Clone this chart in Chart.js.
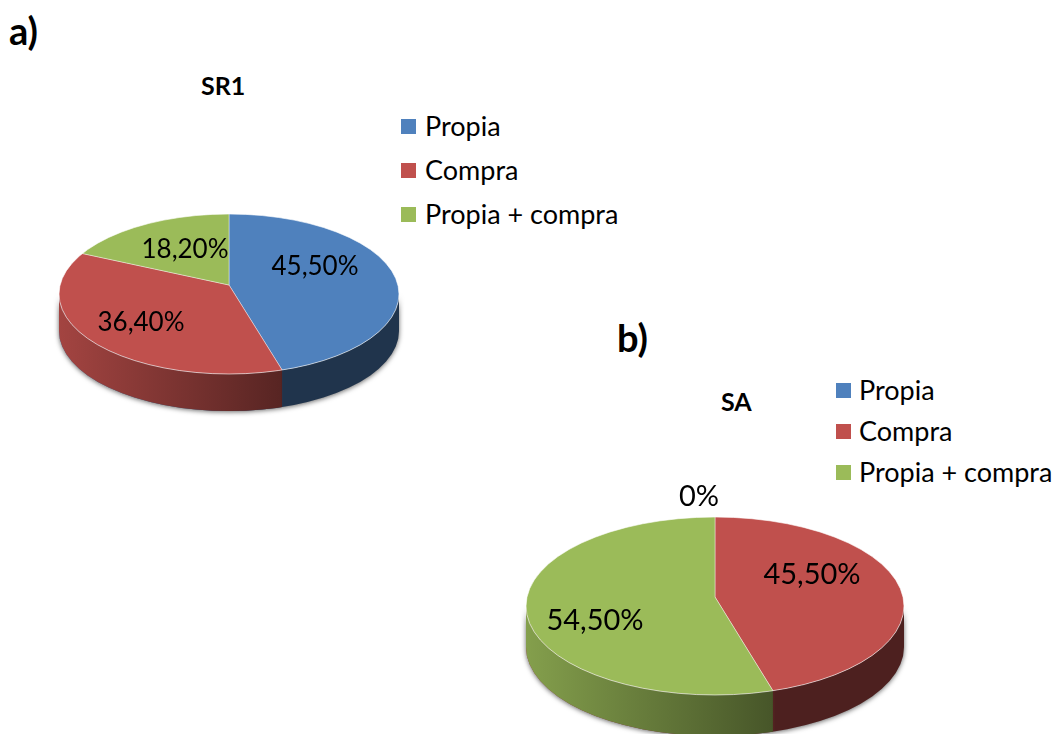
<!DOCTYPE html>
<html>
<head>
<meta charset="utf-8">
<title>SR1 / SA</title>
<script src="https://cdn.jsdelivr.net/npm/chart.js@4"></script>
<style>
	html, body { margin: 0; padding: 0; background: #fff; }
	body { position: relative; width: 1053px; height: 734px; overflow: hidden; font-family: Lato, sans-serif; color: #000; }
	canvas { position: absolute; }
	.tag, .title, .legend { position: absolute; }
	.tag { font-weight: 700; font-size: 38px; line-height: 40px; }
	.title { font-weight: 700; font-size: 25px; line-height: 28px; }
	.legend div { position: absolute; left: 0; white-space: nowrap; font-size: 27px; line-height: 30px; }
	.legend i { position: absolute; left: 0; top: 8px; width: 15px; height: 15px; }
	.legend span { position: absolute; }
</style>
</head>
<body>
<div class="tag" style="left:9px;top:10px">a)</div>
<div class="title" style="left:201px;top:71px">SR1</div>
<div class="legend" id="legendA" style="left:401px;top:111px"></div>
<canvas id="chartA" width="400" height="400" style="left:29px;top:85px"></canvas>

<div class="tag" style="left:617px;top:317px">b)</div>
<div class="title" style="left:721px;top:387px">SA</div>
<div class="legend" id="legendB" style="left:836px;top:375px"></div>
<canvas id="chartB" width="440" height="440" style="left:495px;top:377px"></canvas>

<script>
var categories = ["Propia", "Compra", "Propia + compra"];
var sliceColors = ["#4F81BD", "#C0504D", "#9BBB59"];
var sr1Values = [45.5, 36.4, 18.2];
var saValues = [0, 45.5, 54.5];

function shade(hex, f) {
	var n = parseInt(hex.slice(1), 16);
	return "rgb(" + Math.round((n >> 16) * f) + "," + Math.round(((n >> 8) & 255) * f) + "," + Math.round((n & 255) * f) + ")";
}

function percentText(v) {
	return v === 0 ? "0%" : v.toFixed(2).replace(".", ",") + "%";
}

// where a ray leaving the apex at this angle meets the top ellipse
function rimPoint(p, cx, cy, angle) {
	var dx = Math.cos(angle), dy = Math.sin(angle) * p.tilt;
	var ox = 0, oy = -p.apexDrop;
	var a = dx * dx / (p.rx * p.rx) + dy * dy / (p.ry * p.ry);
	var b = 2 * (ox * dx / (p.rx * p.rx) + oy * dy / (p.ry * p.ry));
	var c = oy * oy / (p.ry * p.ry) - 1;
	var t = (-b + Math.sqrt(b * b - 4 * a * c)) / (2 * a);
	return { x: cx + dx * t, y: cy + oy + dy * t };
}

function rimPath(ctx, cx, cy, p) {
	ctx.beginPath();
	ctx.ellipse(cx, cy, p.rx, p.ry, 0, 0, Math.PI);
	ctx.lineTo(cx - p.rx, cy + p.depth);
	ctx.ellipse(cx, cy + p.depth, p.rx, p.ry, 0, Math.PI, 0, true);
	ctx.closePath();
}

// side wall, squashed disc and value labels around the normal arc drawing
var pie3d = {
	id: "pie3d",
	beforeDatasetsDraw: function(chart, args, p) {
		var ctx = chart.ctx;
		var arcs = chart.getDatasetMeta(0).data;
		var ax = arcs[0].x, ay = arcs[0].y;
		var cx = ax, cy = ay + p.apexDrop;

		ctx.save();
		ctx.shadowColor = "rgba(0,0,0,0.6)";
		ctx.shadowBlur = 5;
		ctx.shadowOffsetY = 1;
		ctx.fillStyle = "#999";
		rimPath(ctx, cx, cy, p);
		ctx.fill();
		ctx.restore();

		arcs.forEach(function(arc, i) {
			if (arc.endAngle - arc.startAngle < 0.001) return;
			var minX = Infinity, maxX = -Infinity, any = false, a, q;
			var step = (arc.endAngle - arc.startAngle) / 200;
			for (a = arc.startAngle; a <= arc.endAngle + 1e-6; a += step) {
				q = rimPoint(p, cx, cy, a);
				if (q.y >= cy) any = true;
			}
			if (!any) return;
			for (a = arc.startAngle; a <= arc.endAngle + 1e-6; a += step) {
				q = rimPoint(p, cx, cy, a);
				var x = q.y >= cy ? q.x : (q.x > cx ? cx + p.rx : cx - p.rx);
				minX = Math.min(minX, x);
				maxX = Math.max(maxX, x);
			}
			var base = sliceColors[i];
			var g = ctx.createLinearGradient(cx - p.rx, 0, cx + p.rx, 0);
			g.addColorStop(0, shade(base, 0.85));
			g.addColorStop(0.65, shade(base, 0.46));
			g.addColorStop(0.66, shade(base, 0.4));
			g.addColorStop(1, shade(base, 0.4));
			ctx.save();
			rimPath(ctx, cx, cy, p);
			ctx.clip();
			ctx.fillStyle = g;
			ctx.fillRect(minX, cy - 2, maxX - minX, p.ry + p.depth + 6);
			if (minX > cx - p.rx + 1) {
				ctx.strokeStyle = "rgba(255,255,255,0.55)";
				ctx.lineWidth = 1;
				ctx.beginPath();
				ctx.moveTo(minX, cy);
				ctx.lineTo(minX, cy + p.ry + p.depth);
				ctx.stroke();
			}
			ctx.restore();
		});

		// the arcs are drawn in a flattened space, cut down to the tilted disc
		ctx.save();
		ctx.beginPath();
		ctx.ellipse(cx, cy, p.rx, p.ry, 0, 0, Math.PI * 2);
		ctx.clip();
		ctx.translate(ax, ay);
		ctx.scale(1, p.tilt);
		ctx.translate(-ax, -ay);
	},
	afterDatasetsDraw: function(chart, args, p) {
		var ctx = chart.ctx;
		var arcs = chart.getDatasetMeta(0).data;
		var ax = arcs[0].x, ay = arcs[0].y;
		ctx.restore();

		ctx.save();
		ctx.strokeStyle = "rgba(255,255,255,0.6)";
		ctx.lineWidth = 1;
		ctx.beginPath();
		ctx.ellipse(ax, ay + p.apexDrop, p.rx, p.ry, 0, 0, Math.PI * 2);
		ctx.stroke();

		ctx.fillStyle = "#000";
		ctx.font = p.labelSize + "px Lato";
		ctx.textAlign = "center";
		ctx.textBaseline = "middle";
		chart.data.datasets[0].data.forEach(function(v, i) {
			var off = p.labelAt[i];
			ctx.fillText(percentText(v), ax + off[0], ay + off[1]);
		});
		ctx.restore();
	}
};

function makePie(id, values, radius, geometry) {
	return new Chart(document.getElementById(id), {
		type: "pie",
		data: {
			labels: categories,
			datasets: [{
				data: values,
				backgroundColor: sliceColors,
				borderColor: "rgba(255,255,255,0.55)",
				borderWidth: 1,
				clip: false
			}]
		},
		options: {
			responsive: false,
			animation: false,
			radius: radius,
			layout: { padding: 0 },
			plugins: {
				legend: { display: false },
				tooltip: { enabled: false },
				pie3d: geometry
			}
		},
		plugins: [pie3d]
	});
}

function makeLegend(id, rowGap, textLeft) {
	var box = document.getElementById(id);
	categories.forEach(function(name, i) {
		var row = document.createElement("div");
		row.style.top = (i * rowGap) + "px";
		row.innerHTML = '<i style="background:' + sliceColors[i] + '"></i><span style="left:' + textLeft + 'px">' + name + '</span>';
		box.appendChild(row);
	});
}

makeLegend("legendA", 44, 24);
makeLegend("legendB", 41, 23);

makePie("chartA", sr1Values, 192, {
	rx: 170, ry: 80, apexDrop: 9, tilt: 0.47, depth: 37, labelSize: 26,
	labelAt: [[86, -18], [-88, 38], [-44, -35]]
});

makePie("chartB", saValues, 212, {
	rx: 189, ry: 89, apexDrop: 9, tilt: 0.47, depth: 41, labelSize: 29,
	labelAt: [[-16, -100], [97, -22], [-120, 24]]
});
</script>
</body>
</html>
